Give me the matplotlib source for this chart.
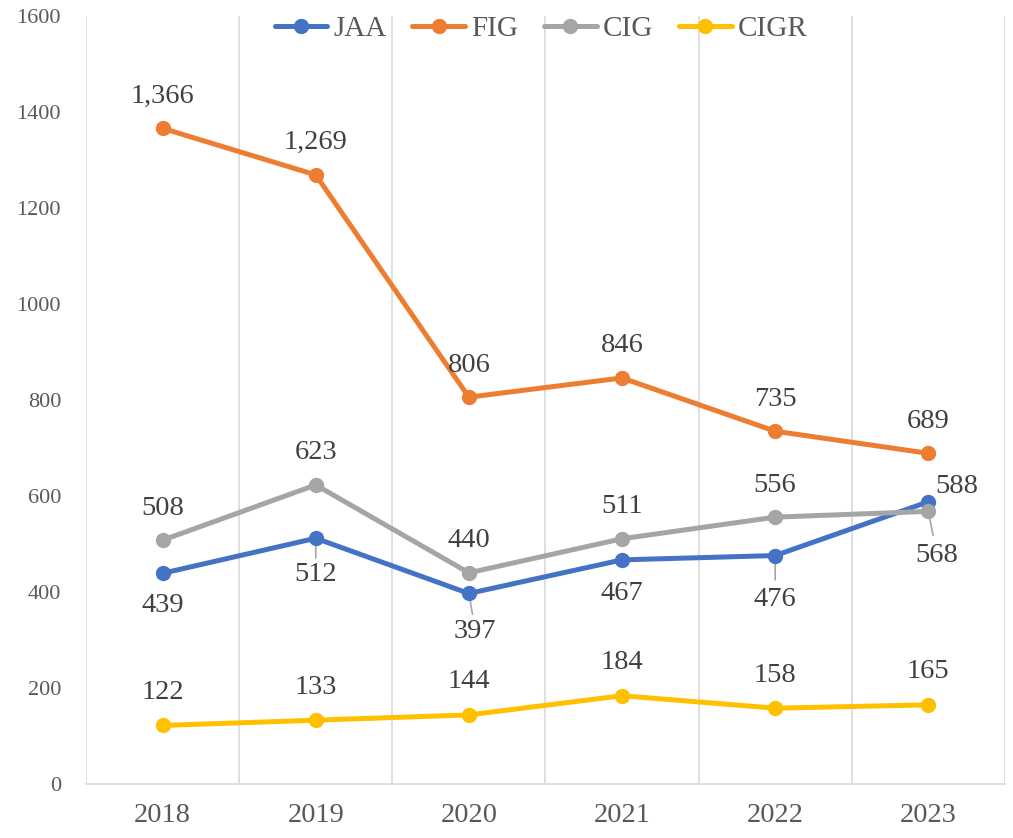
import matplotlib.pyplot as plt

years = ['2018', '2019', '2020', '2021', '2022', '2023']
jaa = [439, 512, 397, 467, 476, 588]
fig_vals = [1366, 1269, 806, 846, 735, 689]
cig = [508, 623, 440, 511, 556, 568]
cigr = [122, 133, 144, 184, 158, 165]

plt.rcParams['font.family'] = ['Liberation Serif', 'DejaVu Serif']

series = [
    ('JAA', jaa, '#4472C4'),
    ('FIG', fig_vals, '#ED7D31'),
    ('CIG', cig, '#A5A5A5'),
    ('CIGR', cigr, '#FFC000'),
]

# label offsets in pixels (dx, dy) and whether a leader line is drawn
offsets = {
    'JAA': [(0, -32, False), (0, -36, True), (6, -38, True),
            (0, -34, False), (0, -44, True), (28, 15, False)],
    'FIG': [(0, 32, False)] * 6,
    'CIG': [(0, 32, False)] * 5 + [(8, -44, True)],
    'CIGR': [(0, 33, False)] * 6,
}

fig = plt.figure(figsize=(10.13, 8.38), dpi=100)
ax = fig.add_axes([0.0849, 0.0644, 0.9071, 0.9165])

x = list(range(len(years)))
for name, vals, color in series:
    ax.plot(x, vals, color=color, lw=3.6, marker='o', markersize=10,
            label=name, solid_capstyle='round', zorder=3)
    for i, v in enumerate(vals):
        dx, dy, leader = offsets[name][i]
        txt = f'{v:,}'
        if leader:
            ax.annotate('', xy=(i, v), xytext=(dx * 0.6, dy * 0.55),
                        textcoords='offset pixels',
                        arrowprops=dict(arrowstyle='-', color='#A6A6A6',
                                        lw=1.2, shrinkA=0, shrinkB=4),
                        zorder=2)
        ax.annotate(txt, xy=(i, v), xytext=(dx, dy),
                    textcoords='offset pixels', ha='center', va='center',
                    fontsize=20.5, color='#404040', zorder=4)

ax.set_xlim(-0.5, 5.5)
ax.set_ylim(0, 1600)
ax.set_yticks(range(0, 1601, 200))
ax.set_xticks(x)
ax.set_xticklabels(years)

# vertical gridlines between categories
for b in [i + 0.5 for i in range(-1, 6)]:
    ax.axvline(b, color='#D9D9D9', lw=1.2, zorder=0)

for s in ['top', 'right', 'left']:
    ax.spines[s].set_visible(False)
ax.spines['bottom'].set_color('#D9D9D9')
ax.spines['bottom'].set_linewidth(1.2)

ax.tick_params(axis='y', length=0, labelsize=16, labelcolor='#595959', pad=18)
ax.tick_params(axis='x', length=0, labelsize=20.5, labelcolor='#595959', pad=14)

ax.legend(loc='upper center', bbox_to_anchor=(0.495, 1.035), ncol=4,
          frameon=False, fontsize=21, labelcolor='#595959',
          handlelength=1.8, handletextpad=0.2, columnspacing=0.9)

fig.savefig('out.png', dpi=100)
